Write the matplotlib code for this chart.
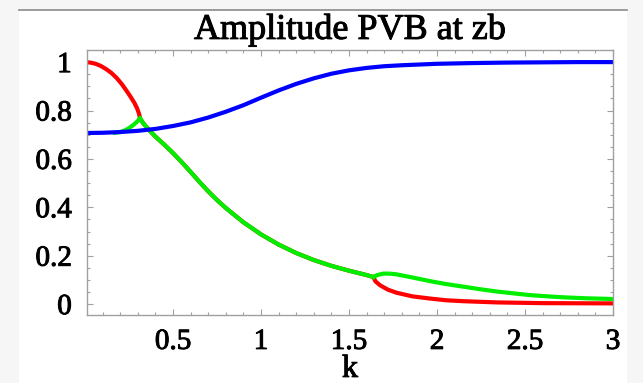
import matplotlib.pyplot as plt
import matplotlib.patheffects as pe
from matplotlib.patches import Rectangle
from matplotlib.lines import Line2D
from matplotlib.ticker import MultipleLocator, FuncFormatter

# amplitude curves vs k
k_blue = [0, 0.1, 0.2, 0.3, 0.4, 0.5, 0.6, 0.7, 0.8, 0.9, 1.0, 1.1, 1.2, 1.3,
          1.4, 1.5, 1.6, 1.7, 1.8, 1.9, 2.0, 2.2, 2.4, 2.6, 2.8, 3.0]
v_blue = [0.707, 0.708, 0.711, 0.716, 0.724, 0.736, 0.751, 0.771, 0.795, 0.822,
          0.853, 0.883, 0.91, 0.933, 0.952, 0.966, 0.976, 0.983, 0.987, 0.99,
          0.993, 0.996, 0.998, 0.999, 1.0, 1.0]

k_red_low = [0, 0.03, 0.06, 0.09, 0.12, 0.15, 0.18, 0.21, 0.24, 0.26, 0.28,
             0.295, 0.305, 0.31, 0.3125]
v_red_low = [1.0, 0.998, 0.993, 0.984, 0.971, 0.955, 0.934, 0.908, 0.877, 0.855,
             0.832, 0.81, 0.79, 0.777, 0.767]

k_green_low = [0.17, 0.2, 0.23, 0.25, 0.27, 0.29, 0.3, 0.3125]
v_green_low = [0.708, 0.711, 0.719, 0.727, 0.738, 0.75, 0.757, 0.767]

k_mid = [0.3125, 0.33, 0.36, 0.4, 0.45, 0.5, 0.55, 0.6, 0.65, 0.7, 0.75, 0.8,
         0.9, 1.0, 1.1, 1.2, 1.3, 1.4, 1.5, 1.6, 1.638]
v_mid = [0.767, 0.748, 0.722, 0.692, 0.659, 0.624, 0.586, 0.546, 0.505, 0.466,
         0.43, 0.397, 0.338, 0.288, 0.246, 0.211, 0.182, 0.158, 0.138, 0.12, 0.112]

k_green_high = [1.638, 1.66, 1.695, 1.73, 1.77, 1.86, 1.96, 2.05, 2.15, 2.25,
                2.34, 2.44, 2.53, 2.63, 2.72, 2.85, 3.0]
v_green_high = [0.112, 0.12, 0.126, 0.126, 0.123, 0.11, 0.095, 0.083, 0.072,
                0.061, 0.052, 0.044, 0.037, 0.032, 0.028, 0.024, 0.021]

k_red_high = [1.638, 1.65, 1.676, 1.72, 1.77, 1.86, 1.96, 2.05, 2.15, 2.34, 2.6, 3.0]
v_red_high = [0.112, 0.094, 0.078, 0.06, 0.047, 0.032, 0.023, 0.016, 0.012,
              0.007, 0.004, 0.003]

serif = ['Liberation Serif', 'DejaVu Serif']
red, green, blue = '#ff0000', '#00ee00', '#0000ff'
# slightly heavier strokes on the text
heavy = [pe.withStroke(linewidth=0.7, foreground='black')]

fig = plt.figure(figsize=(6.43, 3.83), dpi=100, facecolor='#f6f6f6')
# white page panel with a gray rule on top
fig.patches.append(Rectangle((19 / 643, 0), 608 / 643, 373 / 383,
                             transform=fig.transFigure, facecolor='white',
                             edgecolor='none', zorder=-10))
fig.lines.append(Line2D([19 / 643, 627 / 643], [373.5 / 383, 373.5 / 383],
                        transform=fig.transFigure, color='#8a8a8a', lw=1.2,
                        zorder=-5))

ax = fig.add_axes([87 / 643, 68 / 383, 526 / 643, 265 / 383])
ax.set_zorder(1)
ax.set_facecolor('white')

lw = 3
ax.plot(k_red_low, v_red_low, color=red, lw=lw, solid_capstyle='butt')
ax.plot(k_mid, v_mid, color=red, lw=lw)
ax.plot(k_red_high, v_red_high, color=red, lw=lw)
ax.plot(k_green_low, v_green_low, color=green, lw=lw)
ax.plot(k_mid, v_mid, color=green, lw=lw)
ax.plot(k_green_high, v_green_high, color=green, lw=lw)
ax.plot(k_blue, v_blue, color=blue, lw=lw)

ax.set_xlim(0.011, 3.0)
ax.set_ylim(-0.045, 1.05)

ax.xaxis.set_major_locator(MultipleLocator(0.5))
ax.xaxis.set_minor_locator(MultipleLocator(0.1))
ax.yaxis.set_major_locator(MultipleLocator(0.2))
ax.yaxis.set_minor_locator(MultipleLocator(0.05))
fmt = FuncFormatter(lambda v, p: ('%g' % round(v, 3)))
ax.xaxis.set_major_formatter(fmt)
ax.yaxis.set_major_formatter(fmt)

for s in ax.spines.values():
    s.set_color('#a0a0a0')
    s.set_linewidth(1.0)
ax.tick_params(which='both', direction='in', top=True, right=True,
               color='#a0a0a0', width=0.8)
ax.tick_params(which='major', length=4)
ax.tick_params(which='minor', length=2)
ax.tick_params(axis='x', which='major', pad=10)
ax.tick_params(axis='y', which='major', pad=11)
for lab in ax.get_xticklabels() + ax.get_yticklabels():
    lab.set_family(serif)
    lab.set_fontsize(21)
    lab.set_path_effects(heavy)

ax.set_title('Amplitude PVB at zb', family=serif, fontsize=26, pad=8,
             path_effects=heavy)
ax.set_xlabel('k', family=serif, fontsize=23, labelpad=0, path_effects=heavy)

fig.savefig('out.png', dpi=100, facecolor=fig.get_facecolor())
